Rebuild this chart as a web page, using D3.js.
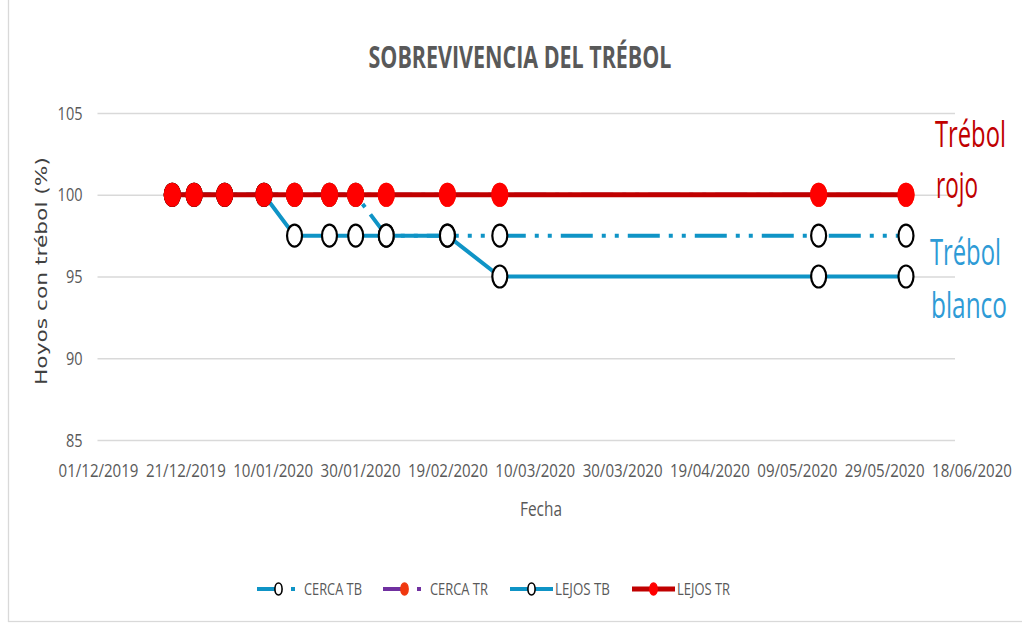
<!DOCTYPE html>
<html><head><meta charset="utf-8">
<script src="https://cdn.jsdelivr.net/npm/d3@7/dist/d3.min.js"></script>
<style>body{margin:0;background:#fff}svg{display:block}</style>
</head><body>
<svg id="c" width="1022" height="626"></svg>
<script>
// ---- data ----
const dates = ["2019-12-18","2019-12-23","2019-12-30","2020-01-08","2020-01-15","2020-01-23","2020-01-29","2020-02-05","2020-02-19","2020-03-02","2020-05-14","2020-06-03"];
const cercaTB = [100,100,100,100,100,100,100,97.5,97.5,97.5,97.5,97.5];
const cercaTR = [100,100,100,100,100,100,100,100,100,100,100,100];
const lejosTB = [100,100,100,100,97.5,97.5,97.5,97.5,97.5,95,95,95];
const lejosTR = [100,100,100,100,100,100,100,100,100,100,100,100];
const seriesNames = ["CERCA TB","CERCA TR","LEJOS TB","LEJOS TR"];
const yTicks = [85,90,95,100,105];
const xTickLabels = ["01/12/2019","21/12/2019","10/01/2020","30/01/2020","19/02/2020","10/03/2020","30/03/2020","19/04/2020","09/05/2020","29/05/2020","18/06/2020"];
const title = "SOBREVIVENCIA DEL TRÉBOL";
const yTitle = "Hoyos con trébol (%)";
const xTitle = "Fecha";

// ---- layout ----
const FONT = "'Open Sans','Liberation Sans',Arial,sans-serif";
const svg = d3.select("#c");
const parseISO = d3.utcParse("%Y-%m-%d");
const parseDMY = d3.utcParse("%d/%m/%Y");
const fmtDMY = d3.utcFormat("%d/%m/%Y");
const xDates = dates.map(parseISO);
const xTicks = xTickLabels.map(parseDMY);
const plotLeft = 97.5, plotRight = 955, plotTop = 113, plotBottom = 440;

const x = d3.scaleUtc().domain([xTicks[0], xTicks[xTicks.length-1]]).range([98, 971.5]);
const y = d3.scaleLinear().domain([85,105]).range([plotBottom, plotTop]);

// horizontally squeeze a text to a target width around anchor x
function squeeze(node, w, ax){
  const n = node.getComputedTextLength();
  if(!n) return;
  const k = w / n;
  node.setAttribute("transform", `translate(${ax*(1-k)},0) scale(${k},1)`);
}

svg.append("rect").attr("width",1022).attr("height",626).attr("fill","#fff");
svg.append("rect").attr("x",8.5).attr("y",-2).attr("width",1020).attr("height",623.5)
  .attr("fill","none").attr("stroke","#d9d9d9").attr("stroke-width",1.3);

// title
const tt = svg.append("text").attr("x",520).attr("y",68).attr("text-anchor","middle")
  .attr("font-family",FONT).attr("font-weight","bold").attr("font-size",30)
  .attr("fill","#595959").text(title);
squeeze(tt.node(), 303, 520);

// y axis + gridlines
const gy = svg.append("g").attr("transform",`translate(${plotLeft},0)`)
  .call(d3.axisLeft(y).tickValues(yTicks).tickSize(-(plotRight-plotLeft)).tickPadding(15).tickFormat(d3.format("d")));
gy.select(".domain").remove();
gy.selectAll(".tick line").attr("stroke","#d9d9d9").attr("stroke-width",1.4);
gy.selectAll(".tick text").attr("font-family",FONT).attr("font-size",19).attr("fill","#595959")
  .each(function(d){ squeeze(this, String(d).length*8.3, -15); });

// x axis
const gx = svg.append("g").attr("transform",`translate(0,${plotBottom})`)
  .call(d3.axisBottom(x).tickValues(xTicks).tickSize(0).tickPadding(24).tickFormat(fmtDMY));
gx.select(".domain").remove();
gx.selectAll(".tick text").attr("font-family",FONT).attr("font-size",19).attr("fill","#595959")
  .each(function(){ squeeze(this, 80, 0); });

// axis titles
const xt = svg.append("text").attr("x",541).attr("y",516).attr("text-anchor","middle")
  .attr("font-family",FONT).attr("font-size",20).attr("fill","#595959").text(xTitle);
squeeze(xt.node(), 42, 541);
svg.append("text").attr("transform","translate(47,271) rotate(-90)").attr("text-anchor","middle")
  .attr("font-family","'DejaVu Sans',Verdana,sans-serif").attr("font-size",15).attr("fill","#404040")
  .attr("textLength",228).attr("lengthAdjust","spacingAndGlyphs").text(yTitle);

// series
const BLUE = "#0F94C6", PURPLE = "#7030A0", DRED = "#C00000", RED = "#FF0000";
const DASH = "32,9,4,9,4,9";
const series = [
  {name:seriesNames[0], vals:cercaTB, line:BLUE, w:4, dash:DASH, off:60, mfill:"#fff", mstroke:"#000"},
  {name:seriesNames[1], vals:cercaTR, line:PURPLE, w:4, dash:DASH, off:60, mfill:"#F0380F", mstroke:"#F0380F"},
  {name:seriesNames[2], vals:lejosTB, line:BLUE, w:4, dash:null, off:0, mfill:"#fff", mstroke:"#000"},
  {name:seriesNames[3], vals:lejosTR, line:DRED, w:5, dash:null, off:0, mfill:RED, mstroke:RED}
];
const lineGen = d3.line().x((d,i)=>x(xDates[i])).y(d=>y(d));
series.forEach(s=>{
  const g = svg.append("g");
  g.append("path").attr("d",lineGen(s.vals)).attr("fill","none").attr("stroke",s.line)
    .attr("stroke-width",s.w).attr("stroke-dasharray",s.dash).attr("stroke-dashoffset",s.off)
    .attr("stroke-linejoin","round");
  g.selectAll("ellipse").data(s.vals).join("ellipse")
    .attr("cx",(d,i)=>x(xDates[i])).attr("cy",d=>y(d)).attr("rx",7.5).attr("ry",11)
    .attr("fill",s.mfill).attr("stroke",s.mstroke).attr("stroke-width",2.2);
});

// annotations
const ann = [
  {t:"Trébol", x:935, y:147, w:71, c:DRED},
  {t:"rojo", x:936, y:198, w:42, c:DRED},
  {t:"Trébol", x:930, y:265, w:71, c:"#2E9BD6"},
  {t:"blanco", x:931, y:318, w:76, c:"#2E9BD6"}
];
svg.selectAll("text.ann").data(ann).join("text").attr("class","ann")
  .attr("x",d=>d.x).attr("y",d=>d.y).attr("fill",d=>d.c)
  .attr("font-family",FONT).attr("font-size",37).text(d=>d.t)
  .each(function(d){ squeeze(this, d.w, d.x); });

// legend
const legX = [257, 383, 510, 632];
const legTextX = [304, 430, 555, 677];
const legTextW = [58, 58, 55, 53];
const legY = 589;
series.forEach((s,i)=>{
  const g = svg.append("g");
  g.append("line").attr("x1",legX[i]).attr("x2",legX[i]+43).attr("y1",legY).attr("y2",legY)
    .attr("stroke",s.line).attr("stroke-width",s.w)
    .attr("stroke-dasharray",s.dash ? "18,16,4,100" : null);
  g.append("ellipse").attr("cx",legX[i]+21.5).attr("cy",legY).attr("rx",3.6).attr("ry",6)
    .attr("fill",s.mfill).attr("stroke",s.mstroke).attr("stroke-width",1.6);
  const t = g.append("text").attr("x",legTextX[i]).attr("y",legY+6).attr("font-family",FONT)
    .attr("font-size",17).attr("fill","#595959").text(s.name);
  squeeze(t.node(), legTextW[i], legTextX[i]);
});
</script>
</body></html>
